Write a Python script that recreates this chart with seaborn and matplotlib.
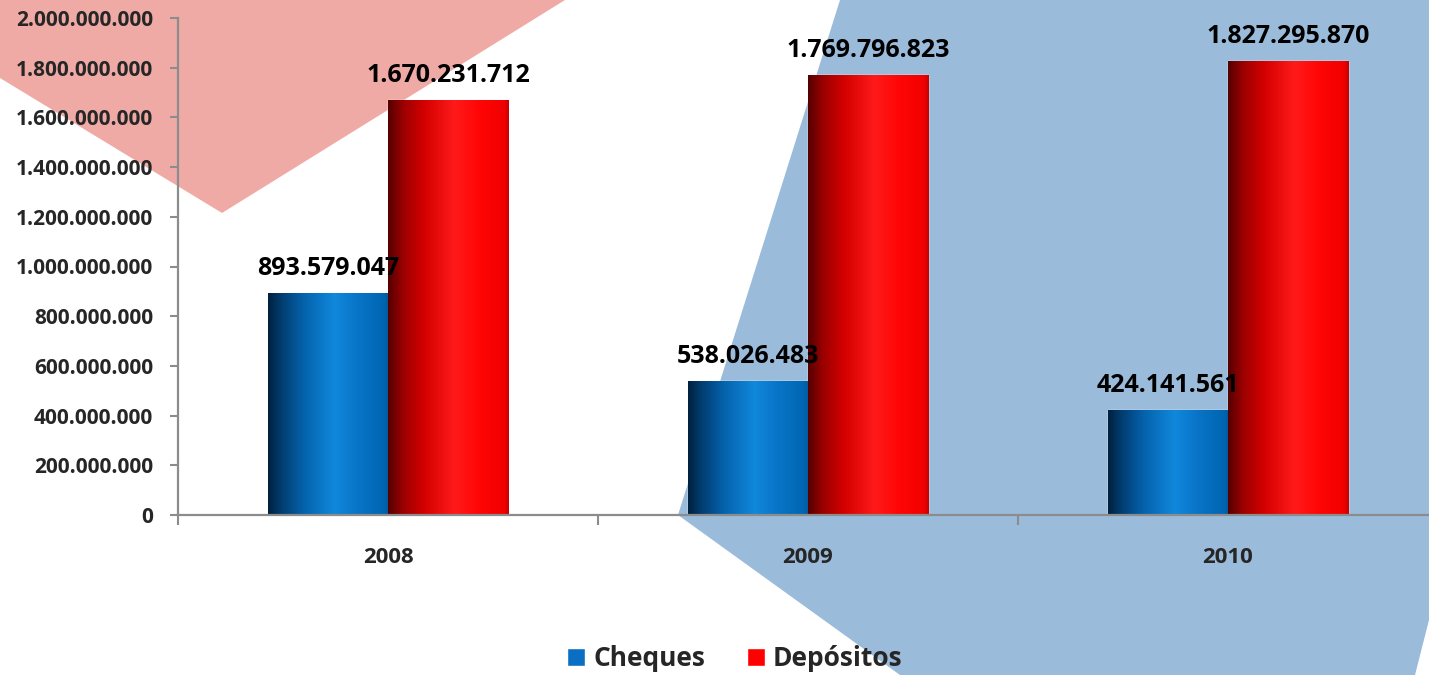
import numpy as np
import pandas as pd
import matplotlib
matplotlib.use("Agg")
import matplotlib.pyplot as plt
from matplotlib.patches import Polygon
from matplotlib.colors import LinearSegmentedColormap
import seaborn as sns

# --- data -------------------------------------------------------------
years = ["2008", "2009", "2010"]
series = ["Cheques", "Depósitos"]
cheques = [893579047, 538026483, 424141561]
depositos = [1670231712, 1769796823, 1827295870]
y_ticks = [0, 200e6, 400e6, 600e6, 800e6, 1000e6, 1200e6, 1400e6, 1600e6, 1800e6, 2000e6]

df = pd.DataFrame({
    "year": years * 2,
    "serie": [series[0]] * 3 + [series[1]] * 3,
    "value": cheques + depositos,
})

W, H = 1429, 675
DPI = 100

sns.set_theme(style="white")
plt.rcParams["font.family"] = ["Open Sans", "DejaVu Sans"]
plt.rcParams["font.weight"] = "bold"

fig = plt.figure(figsize=(W / DPI, H / DPI), dpi=DPI)
fig.patch.set_facecolor("white")


def px(x, y):
    return (x / W, 1 - y / H)


# decorative background shapes
pink = Polygon([px(0, 0), px(565, 0), px(222, 213), px(0, 78)],
               closed=True, transform=fig.transFigure,
               facecolor="#F0AAA6", edgecolor="none", zorder=-2)
blue = Polygon([px(840, 0), px(1429, 0), px(1429, 620), px(1415, 675),
                px(900, 675), px(678, 515)],
               closed=True, transform=fig.transFigure,
               facecolor="#9ABBDA", edgecolor="none", zorder=-2)
fig.add_artist(pink)
fig.add_artist(blue)

ax = fig.add_axes([178 / W, (H - 515) / H, 1260 / W, 497 / H])
ax.set_facecolor("none")

palette = {"Cheques": "#0A6FC2", "Depósitos": "#FF0000"}
sns.barplot(data=df, x="year", y="value", hue="serie", hue_order=series,
            order=years, palette=palette, width=0.572, gap=0, dodge=True,
            saturation=1, ax=ax, legend=True, errorbar=None)

# cylinder-like shading on each bar
blue_cmap = LinearSegmentedColormap.from_list("cyl_blue", [
    (0.0, "#00213F"), (0.12, "#023F73"), (0.3, "#0563AD"),
    (0.55, "#1088DC"), (0.72, "#0A76C9"), (0.95, "#0066B3"), (1.0, "#005AA0")])
red_cmap = LinearSegmentedColormap.from_list("cyl_red", [
    (0.0, "#540000"), (0.12, "#9A0000"), (0.3, "#D40000"),
    (0.55, "#FF1A1A"), (0.75, "#FF0606"), (0.96, "#F20000"), (1.0, "#C80000")])
grad = np.linspace(0, 1, 256).reshape(1, -1)

for container, cmap in zip(ax.containers, [blue_cmap, red_cmap]):
    for bar in container:
        x0 = bar.get_x()
        w = bar.get_width()
        h = bar.get_height()
        im = ax.imshow(grad, cmap=cmap, aspect="auto",
                       extent=(x0, x0 + w, 0, h), zorder=bar.get_zorder() + 0.1,
                       interpolation="bilinear")
        im.set_clip_path(bar)

ax.set_xlim(-0.5, 2.5)
ax.set_ylim(0, 2e9)


def fmt(v):
    return f"{v:,.0f}".replace(",", ".")


# value labels
for container in ax.containers:
    for bar in container:
        h = bar.get_height()
        ax.annotate(fmt(h), (bar.get_x() + bar.get_width() / 2, h),
                    xytext=(0, 13), textcoords="offset points",
                    ha="center", va="baseline", fontsize=18, fontweight="bold",
                    color="black", zorder=10)

# axes styling
for s in ["top", "right"]:
    ax.spines[s].set_visible(False)
for s in ["left", "bottom"]:
    ax.spines[s].set_color("#8C8C8C")
    ax.spines[s].set_linewidth(1.6)
    ax.spines[s].set_zorder(5)

ax.set_yticks(y_ticks)
ax.set_yticklabels([fmt(v) for v in y_ticks], fontsize=15, fontweight="bold")
ax.tick_params(axis="y", left=True, length=6, width=1.5, color="#8C8C8C",
               pad=12, direction="out")

ax.set_xticks(range(len(years)))
ax.set_xticklabels(years, fontsize=16, fontweight="bold")
ax.set_xticks([-0.5, 0.5, 1.5, 2.5], minor=True)
ax.tick_params(axis="x", which="major", bottom=True, length=0, pad=23)
ax.tick_params(axis="x", which="minor", bottom=True, length=7, width=1.5,
               color="#8C8C8C", direction="out")
ax.set_xlabel("")
ax.set_ylabel("")

# legend at the bottom
handles, labels = ax.get_legend_handles_labels()
ax.get_legend().remove()
fig.legend(handles, labels, loc="center", bbox_to_anchor=px(735, 659),
           ncol=2, frameon=False, prop={"size": 19, "weight": "bold"},
           handlelength=0.68, handleheight=0.68, handletextpad=0.3,
           columnspacing=1.6)

fig.savefig("out.png", dpi=DPI, facecolor="white")
